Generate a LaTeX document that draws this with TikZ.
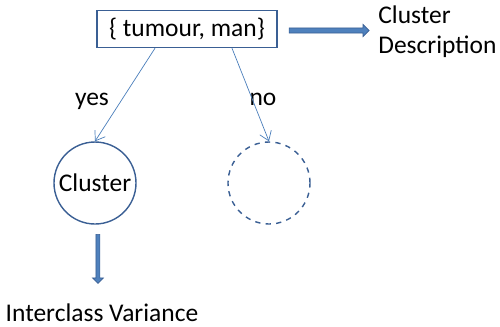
\documentclass[tikz,border=0pt]{standalone}
\usepackage{fontspec}
\setmainfont{Carlito}
\usetikzlibrary{arrows.meta,shapes.arrows}

\definecolor{edgeblue}{HTML}{4A7EBB}
\definecolor{boxblue}{HTML}{3A5F94}
\definecolor{fillblue}{HTML}{4F81BD}

\begin{document}
\begin{tikzpicture}[x=0.02cm, y=-0.02cm, font=\fontsize{14.5}{17}\selectfont,
    set_node/.style={draw=boxblue, thick, minimum width=180*0.02cm, minimum height=37*0.02cm, inner sep=0},
    cluster_node/.style={circle, draw=boxblue, thick, minimum size=82*0.02cm, inner sep=0},
    branch/.style={draw=edgeblue, -{Straight Barb[length=5pt, width=7pt]}},
    block/.style={single arrow, draw=boxblue, fill=fillblue, thin, inner xsep=0, inner ysep=2.2*0.02cm,
        single arrow head extend=3.5*0.02cm, single arrow head indent=0pt}]
    \useasboundingbox (0,0) rectangle (500,326);
    \node[set_node] (set) at (187,29) {\{ tumour, man\}};
    \node[anchor=west, align=left, inner sep=0] (desc) at (378,32) {Cluster\\Description};
    \node[cluster_node] (c1) at (95,183) {Cluster};
    \node[cluster_node, dashed] (c2) at (269,183) {};
    \node[inner sep=0] (var) at (102,313) {Interclass Variance};
    \node[inner sep=0] (yes) at (92,101) {yes};
    \node[inner sep=0] (no) at (263,99) {no};
    \draw[branch] ([xshift=-32*0.02cm]set.south) -- (c1.north);
    \draw[branch] ([xshift=45*0.02cm]set.south) -- (c2.north);
    \path (set.east) -- (desc.west) node[midway, block, minimum height=80*0.02cm] {};
    \path (c1.south) -- (var.north) node[pos=0.42, block, rotate=-90, inner ysep=1.6*0.02cm, minimum height=49*0.02cm] {};
\end{tikzpicture}
\end{document}
